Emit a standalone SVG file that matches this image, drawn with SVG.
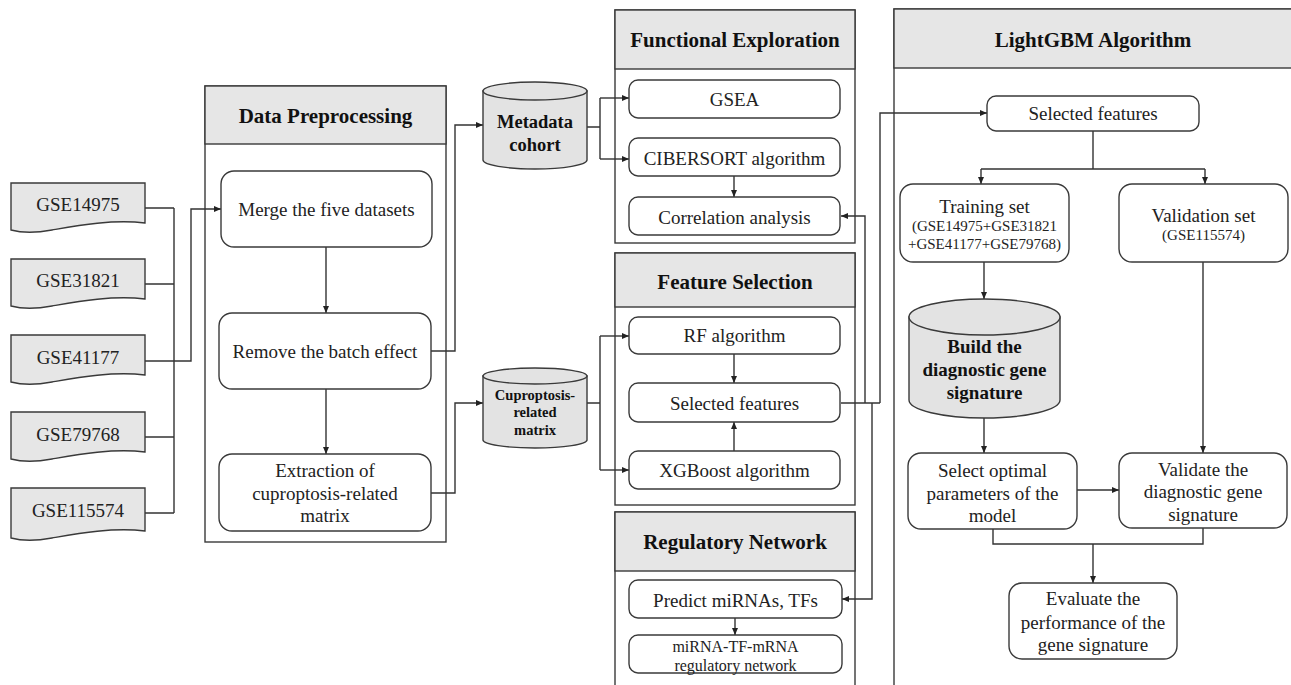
<svg xmlns="http://www.w3.org/2000/svg" width="1291" height="685" viewBox="0 0 1291 685">
<defs>
<style>
.panel{fill:#ffffff;stroke:#3a3a3a;stroke-width:1.4}
.hdr{fill:#e6e6e6;stroke:#3a3a3a;stroke-width:1.4}
.box{fill:#ffffff;stroke:#3a3a3a;stroke-width:1.4}
.doc{fill:#e6e6e6;stroke:#3a3a3a;stroke-width:1.4}
.cyl{fill:#e3e3e3;stroke:#3a3a3a;stroke-width:1.4}
.t{font-family:"Liberation Serif","Times New Roman",serif;font-size:19px;fill:#222;text-anchor:middle;dominant-baseline:central}
.ts{font-family:"Liberation Serif","Times New Roman",serif;font-size:15px;fill:#222;text-anchor:middle;dominant-baseline:central}
.tm{font-family:"Liberation Serif","Times New Roman",serif;font-size:16px;fill:#222;text-anchor:middle;dominant-baseline:central}
.h{font-family:"Liberation Serif","Times New Roman",serif;font-size:21px;font-weight:bold;fill:#111;text-anchor:middle;dominant-baseline:central}
.cb{font-family:"Liberation Serif","Times New Roman",serif;font-size:19px;font-weight:bold;fill:#111;text-anchor:middle;dominant-baseline:central}
.cbs{font-family:"Liberation Serif","Times New Roman",serif;font-size:14.5px;font-weight:bold;fill:#111;text-anchor:middle;dominant-baseline:central}
.c{fill:none;stroke:#333;stroke-width:1.4}
.a{fill:none;stroke:#333;stroke-width:1.4;marker-end:url(#ah)}
</style>
<marker id="ah" markerWidth="8" markerHeight="8" refX="7" refY="4" orient="auto" markerUnits="userSpaceOnUse"><path d="M0,1 L7,4 L0,7 Z" fill="#222"/></marker>
</defs>
<rect width="1291" height="685" fill="#ffffff"/>

<!-- Panels -->
<g id="panel-data-preprocessing">
<rect class="panel" x="205" y="86" width="241" height="456"/>
<rect class="hdr" x="205" y="86" width="241" height="58"/>
<text class="h" x="325.5" y="116">Data Preprocessing</text>
</g>
<g id="panel-functional-exploration">
<rect class="panel" x="615" y="10" width="240" height="233"/>
<rect class="hdr" x="615" y="10" width="240" height="59"/>
<text class="h" x="735" y="40">Functional Exploration</text>
</g>
<g id="panel-feature-selection">
<rect class="panel" x="615" y="253" width="240" height="252"/>
<rect class="hdr" x="615" y="253" width="240" height="54"/>
<text class="h" x="735" y="282">Feature Selection</text>
</g>
<g id="panel-regulatory-network">
<rect class="panel" x="615" y="512" width="240" height="200"/>
<rect class="hdr" x="615" y="512" width="240" height="59"/>
<text class="h" x="735" y="542">Regulatory Network</text>
</g>
<g id="panel-lightgbm">
<rect class="panel" x="894" y="9" width="410" height="700"/>
<rect class="hdr" x="894" y="9" width="410" height="59"/>
<text class="h" x="1093" y="40">LightGBM Algorithm</text>
</g>

<!-- Connectors -->
<g id="connectors">
<path class="c" d="M145,208 H174 M145,284 H174 M145,437 H174 M145,513 H174 M174,208 V513"/>
<path class="a" d="M145,361 H191 V209 H221"/>
<path class="a" d="M326,247 V313"/>
<path class="a" d="M326,389 V454"/>
<path class="a" d="M431,351 H455 V125 H483"/>
<path class="a" d="M431,493 H455 V403 H483"/>
<path class="c" d="M587,127 H600 M600,98 V159"/>
<path class="a" d="M600,98 H629"/>
<path class="a" d="M600,159 H629"/>
<path class="a" d="M734,176 V197"/>
<path class="c" d="M587,403 H600 M600,336 V470"/>
<path class="a" d="M600,336 H629"/>
<path class="a" d="M600,470 H629"/>
<path class="a" d="M734,354 V383"/>
<path class="a" d="M734,451 V422"/>
<path class="c" d="M841,403 H880"/>
<path class="a" d="M865,403 V216 H841"/>
<path class="a" d="M880,403 V113 H987"/>
<path class="a" d="M872,403 V599 H842"/>
<path class="a" d="M735,618 V635"/>
<path class="c" d="M1093,131 V169 M981,169 H1205"/>
<path class="a" d="M981,169 V184"/>
<path class="a" d="M1205,169 V184"/>
<path class="a" d="M984,262 V299"/>
<path class="a" d="M984,418 V453"/>
<path class="a" d="M1203,262 V453"/>
<path class="a" d="M1077,490 H1119"/>
<path class="c" d="M993,529 V544 H1203 V528"/>
<path class="a" d="M1093,544 V583"/>
</g>

<!-- Dataset documents -->
<g id="gse14975">
<path class="doc" d="M11,183 H145 V223 C112,219 75,226 52,230 C36,233 22,233 11,230 Z"/>
<text class="t" x="78" y="204">GSE14975</text>
</g>
<g id="gse31821">
<path class="doc" d="M11,259 H145 V299 C112,295 75,302 52,306 C36,309 22,309 11,306 Z"/>
<text class="t" x="78" y="280">GSE31821</text>
</g>
<g id="gse41177">
<path class="doc" d="M11,335 H145 V375 C112,371 75,378 52,382 C36,385 22,385 11,382 Z"/>
<text class="t" x="78" y="357">GSE41177</text>
</g>
<g id="gse79768">
<path class="doc" d="M11,412 H145 V452 C112,448 75,455 52,459 C36,462 22,462 11,459 Z"/>
<text class="t" x="78" y="434">GSE79768</text>
</g>
<g id="gse115574">
<path class="doc" d="M11,488 H145 V531 C112,527 75,534 52,538 C36,541 22,541 11,538 Z"/>
<text class="t" x="78" y="510">GSE115574</text>
</g>

<!-- Data preprocessing nodes -->
<g id="merge">
<rect class="box" x="221" y="171" width="211" height="76" rx="13"/>
<text class="t" x="326.5" y="209">Merge the five datasets</text>
</g>
<g id="remove-batch">
<rect class="box" x="219" y="313" width="212" height="76" rx="13"/>
<text class="t" x="325" y="351">Remove the batch effect</text>
</g>
<g id="extraction">
<rect class="box" x="219" y="454" width="212" height="77" rx="13"/>
<text class="t" x="325" y="470">Extraction of</text>
<text class="t" x="325" y="493">cuproptosis-related</text>
<text class="t" x="325" y="515">matrix</text>
</g>

<!-- Cylinders -->
<g id="metadata-cohort">
<path class="cyl" d="M483,91 V160 A52,9 0 0 0 587,160 V91 Z"/>
<ellipse class="cyl" cx="535" cy="91" rx="52" ry="9"/>
<text class="cb" x="535" y="122" style="font-size:18.5px">Metadata</text>
<text class="cb" x="535" y="145" style="font-size:18.5px">cohort</text>
</g>
<g id="cuproptosis-matrix">
<path class="cyl" d="M483,376 V440 A52,8 0 0 0 587,440 V376 Z"/>
<ellipse class="cyl" cx="535" cy="376" rx="52" ry="8"/>
<text class="cbs" x="535" y="395">Cuproptosis-</text>
<text class="cbs" x="535" y="412">related</text>
<text class="cbs" x="535" y="430">matrix</text>
</g>

<!-- Functional exploration nodes -->
<g id="gsea">
<rect class="box" x="629" y="80" width="211" height="38" rx="9"/>
<text class="t" x="734.5" y="99">GSEA</text>
</g>
<g id="cibersort">
<rect class="box" x="629" y="138" width="211" height="38" rx="9"/>
<text class="t" x="734.5" y="158">CIBERSORT algorithm</text>
</g>
<g id="correlation">
<rect class="box" x="629" y="197" width="211" height="38" rx="9"/>
<text class="t" x="734.5" y="217">Correlation analysis</text>
</g>

<!-- Feature selection nodes -->
<g id="rf">
<rect class="box" x="629" y="317" width="211" height="37" rx="9"/>
<text class="t" x="734.5" y="335">RF algorithm</text>
</g>
<g id="selected-features-fs">
<rect class="box" x="629" y="383" width="211" height="39" rx="9"/>
<text class="t" x="734.5" y="403">Selected features</text>
</g>
<g id="xgboost">
<rect class="box" x="629" y="451" width="211" height="38" rx="9"/>
<text class="t" x="734.5" y="470">XGBoost algorithm</text>
</g>

<!-- Regulatory network nodes -->
<g id="predict">
<rect class="box" x="629" y="580" width="213" height="38" rx="9"/>
<text class="t" x="735.5" y="600">Predict miRNAs, TFs</text>
</g>
<g id="mirna-network">
<rect class="box" x="629" y="635" width="213" height="38" rx="9"/>
<text class="tm" x="735.5" y="646">miRNA-TF-mRNA</text>
<text class="tm" x="735.5" y="665">regulatory network</text>
</g>

<!-- LightGBM nodes -->
<g id="selected-features-lgbm">
<rect class="box" x="987" y="96" width="212" height="35" rx="9"/>
<text class="t" x="1093" y="113">Selected features</text>
</g>
<g id="training-set">
<rect class="box" x="900" y="184" width="169" height="78" rx="13"/>
<text class="t" x="984.5" y="206">Training set</text>
<text class="ts" x="984.5" y="226">(GSE14975+GSE31821</text>
<text class="ts" x="984.5" y="244">+GSE41177+GSE79768)</text>
</g>
<g id="validation-set">
<rect class="box" x="1119" y="184" width="169" height="78" rx="13"/>
<text class="t" x="1203.5" y="215">Validation set</text>
<text class="ts" x="1203.5" y="235">(GSE115574)</text>
</g>
<g id="build-signature">
<path class="cyl" d="M909,317 V400 A75.5,18 0 0 0 1060,400 V317 Z"/>
<ellipse class="cyl" cx="984.5" cy="317" rx="75.5" ry="18"/>
<text class="cb" x="984.5" y="346">Build the</text>
<text class="cb" x="984.5" y="369">diagnostic gene</text>
<text class="cb" x="984.5" y="392">signature</text>
</g>
<g id="select-optimal">
<rect class="box" x="908" y="453" width="169" height="76" rx="13"/>
<text class="t" x="992.5" y="470">Select optimal</text>
<text class="t" x="992.5" y="493">parameters of the</text>
<text class="t" x="992.5" y="515">model</text>
</g>
<g id="validate-signature">
<rect class="box" x="1119" y="453" width="168" height="75" rx="13"/>
<text class="t" x="1203" y="469">Validate the</text>
<text class="t" x="1203" y="491">diagnostic gene</text>
<text class="t" x="1203" y="514">signature</text>
</g>
<g id="evaluate">
<rect class="box" x="1009" y="583" width="168" height="76" rx="13"/>
<text class="t" x="1093" y="598">Evaluate the</text>
<text class="t" x="1093" y="622">performance of the</text>
<text class="t" x="1093" y="644">gene signature</text>
</g>
</svg>
